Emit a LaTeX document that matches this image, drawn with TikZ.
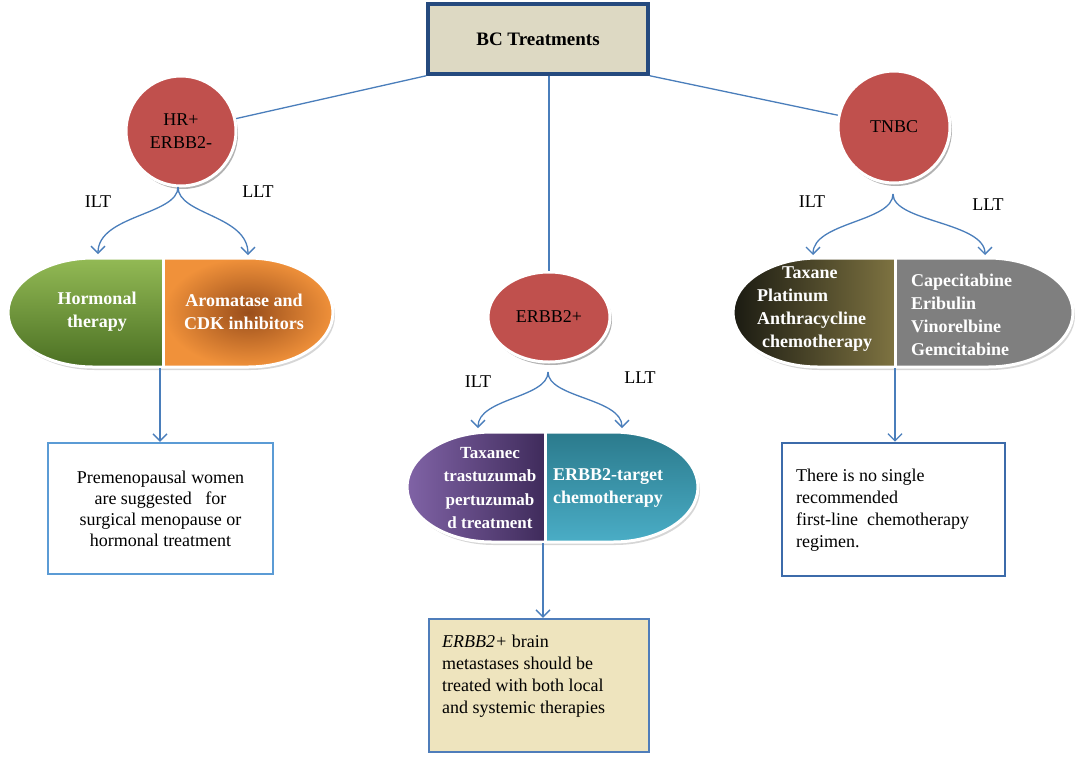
\documentclass[tikz,border=0pt]{standalone}
\usepackage{fontspec}
\setmainfont{Liberation Serif}
\usetikzlibrary{arrows.meta,shapes.geometric,shadows}
\definecolor{connblue}{HTML}{4A7EBB}
\definecolor{circred}{HTML}{C0504D}
\definecolor{topfill}{HTML}{DDD9C3}
\definecolor{topdraw}{HTML}{254A7E}
\definecolor{boxblue}{HTML}{5B9BD5}
\definecolor{boxblueb}{HTML}{4F7DBA}
\definecolor{boxbluec}{HTML}{3C6BAA}
\definecolor{beige}{HTML}{EEE4BE}
\definecolor{grtop}{HTML}{93BA55}
\definecolor{grbot}{HTML}{4B7023}
\definecolor{orout}{HTML}{F0913A}
\definecolor{orin}{HTML}{9A4E1B}
\definecolor{puleft}{HTML}{8063A6}
\definecolor{puright}{HTML}{3F2B5B}
\definecolor{tetop}{HTML}{2B7A8C}
\definecolor{tebot}{HTML}{4AADC6}
\definecolor{olblack}{HTML}{1B1B12}
\definecolor{olivec}{HTML}{7E7341}
\definecolor{midgray}{HTML}{7F7F7F}
\newcommand\myfs{\fontsize{18}{23}\selectfont}
% #1 x1, #2 x2, #3 yc, #4 ry, #5 rx, #6 xdiv, #7 left style, #8 right style
\newcommand\mypill[8]{%
  \fill[black!35,opacity=.45] (#1+#5+2,#3+#4-3) -- (#2-#5+2,#3+#4-3) arc[start angle=90,end angle=-90,x radius=#5pt,y radius=#4pt] -- (#1+#5+2,#3-#4-3) arc[start angle=270,end angle=90,x radius=#5pt,y radius=#4pt] -- cycle;
  \begin{scope}
    \clip (#1+#5,#3+#4) -- (#2-#5,#3+#4) arc[start angle=90,end angle=-90,x radius=#5pt,y radius=#4pt] -- (#1+#5,#3-#4) arc[start angle=270,end angle=90,x radius=#5pt,y radius=#4pt] -- cycle;
    \shade[#7] (#1,#3+#4) rectangle (#6,#3-#4);
    \shade[#8] (#6,#3+#4) rectangle (#2,#3-#4);
  \end{scope}
  \draw[white,line width=3pt] (#1+#5,#3+#4) -- (#2-#5,#3+#4) arc[start angle=90,end angle=-90,x radius=#5pt,y radius=#4pt] -- (#1+#5,#3-#4) arc[start angle=270,end angle=90,x radius=#5pt,y radius=#4pt] -- cycle;
  \draw[white,line width=3pt] (#6,#3+#4) -- (#6,#3-#4);
}
\begin{document}
\begin{tikzpicture}[x=1pt,y=1pt,
  conn/.style={draw=connblue, line width=1.3pt},
  arr/.style={conn, -{Straight Barb[length=7pt,width=14pt]}},
  circ/.style={circle, fill=circred, draw=white, line width=3pt, minimum size=108pt, inner sep=0pt, align=center, font=\myfs,
     drop shadow={shadow xshift=2pt,shadow yshift=-3pt,opacity=.3,fill=black}},
  lbl/.style={font=\myfs, inner sep=0pt},
  pilltext/.style={text=white, font=\bfseries\myfs, align=center, inner sep=0pt},
  boxtext/.style={font=\myfs, inner sep=0pt},
]
\fill[white] (0,0) rectangle (1084,-756);
\useasboundingbox (0,0) rectangle (1084,-756);

% top box
\node[draw=topdraw, fill=topfill, line width=3.5pt, minimum width=220pt, minimum height=70pt, inner sep=0pt,
      font=\bfseries\fontsize{19}{22}\selectfont] (bc) at (538,-39) {BC Treatments};

% circles
\node[circ, minimum size=110pt] (hr) at (181,-131) {HR+\\ERBB2-};
\node[circ, minimum size=112pt] (tnbc) at (894,-127) {TNBC};
\node[ellipse, fill=circred, draw=white, line width=3pt, minimum width=122pt, minimum height=90pt, inner sep=0pt, font=\myfs,
      drop shadow={shadow xshift=2pt,shadow yshift=-3pt,opacity=.3,fill=black}] (erbb) at (549,-317) {ERBB2+};

% connectors from top box
\draw[conn] (bc.south west) -- (hr);
\draw[conn] (erbb.north |- bc.south) -- (erbb);
\draw[conn] (bc.south east) -- (tnbc);

% pills
\mypill{8}{333}{-312.5}{54.5}{85}{163.5}{top color=grtop,bottom color=grbot}{inner color=orin,outer color=orout}
\mypill{407}{698}{-487}{55}{85}{545}{left color=puleft,right color=puright}{top color=tetop,bottom color=tebot}
\mypill{733}{1073}{-312.5}{54.5}{85}{895}{left color=olblack,middle color=olivec,right color=olivec}{top color=midgray,bottom color=midgray}

% pill texts
\node[pilltext] (hrl) at (97,-312) {Hormonal\\therapy};
\node[pilltext] (hrr) at (244,-312) {Aromatase and\\CDK inhibitors};
\node[pilltext, font=\bfseries\fontsize{17}{23.5}\selectfont] (mdl) at (490,-488) {Taxanec\\trastuzumab\\pertuzumab\\d treatment};
\node[pilltext] (mdr) at (608,-488) {ERBB2-target\\chemotherapy};
\node[pilltext, align=left, anchor=west] (tnl) at (757,-309) {\hspace*{25pt}Taxane\\Platinum\\Anthracycline\\\hspace*{5pt}chemotherapy};
\node[pilltext, align=left, anchor=west] (tnr) at (911,-315) {Capecitabine\\Eribulin\\Vinorelbine\\Gemcitabine};

% fork arrows
\coordinate (hrfork) at (178,-187);
\coordinate (hrtipL) at (98,-254);
\coordinate (hrtipR) at (248,-255);
\draw[arr] (hrfork) .. controls (178,-215) and (98,-215) .. (hrtipL);
\draw[arr] (hrfork) .. controls (178,-215) and (248,-215) .. (hrtipR);
\node[lbl] (hrilt) at (98,-202) {ILT};
\node[lbl] (hrllt) at (258,-192) {LLT};

\coordinate (mdfork) at (548,-372);
\coordinate (mdtipL) at (478,-428);
\coordinate (mdtipR) at (622,-428);
\draw[arr] (mdfork) .. controls (548,-398) and (478,-398) .. (mdtipL);
\draw[arr] (mdfork) .. controls (548,-398) and (622,-398) .. (mdtipR);
\node[lbl] (mdilt) at (478,-382) {ILT};
\node[lbl] (mdllt) at (640,-378) {LLT};

\coordinate (tnfork) at (893,-194);
\coordinate (tntipL) at (813,-255);
\coordinate (tntipR) at (985,-255);
\draw[arr] (tnfork) .. controls (893,-222) and (813,-222) .. (tntipL);
\draw[arr] (tnfork) .. controls (893,-222) and (985,-222) .. (tntipR);
\node[lbl] (tnilt) at (812,-202) {ILT};
\node[lbl] (tnllt) at (988,-205) {LLT};

% bottom boxes
\node[draw=boxblue, line width=2.5pt, minimum width=225pt, minimum height=131pt, inner sep=0pt, align=center, font=\fontsize{18}{21}\selectfont] (b1) at (160.5,-508.5)
  {Premenopausal women\\are suggested~~~for\\surgical menopause or\\hormonal treatment};
\node[draw=boxblueb, fill=beige, line width=2.5pt, minimum width=220pt, minimum height=133pt, inner sep=0pt] (b2) at (539,-685.5) {};
\node[boxtext, align=left, anchor=west, font=\fontsize{18}{22}\selectfont] (b2t) at (442,-676)
  {\textit{ERBB2+} brain\\metastases should be\\treated with both local\\and systemic therapies};
\node[draw=boxbluec, line width=2.8pt, minimum width=223pt, minimum height=133pt, inner sep=0pt] (b3) at (893.5,-509.5) {};
\node[boxtext, align=left, anchor=west, font=\fontsize{18}{22}\selectfont] (b3t) at (796,-510)
  {There is no single\\recommended\\first-line~ chemotherapy\\regimen.};

% vertical arrows
\coordinate (hrbot) at (160,-368);
\coordinate (mdbot) at (543,-543);
\coordinate (tnbot) at (895,-368);
\draw[arr] (hrbot) -- (hrbot |- b1.north);
\draw[arr] (mdbot) -- (mdbot |- b2.north);
\draw[arr] (tnbot) -- (tnbot |- b3.north);
\end{tikzpicture}
\end{document}
